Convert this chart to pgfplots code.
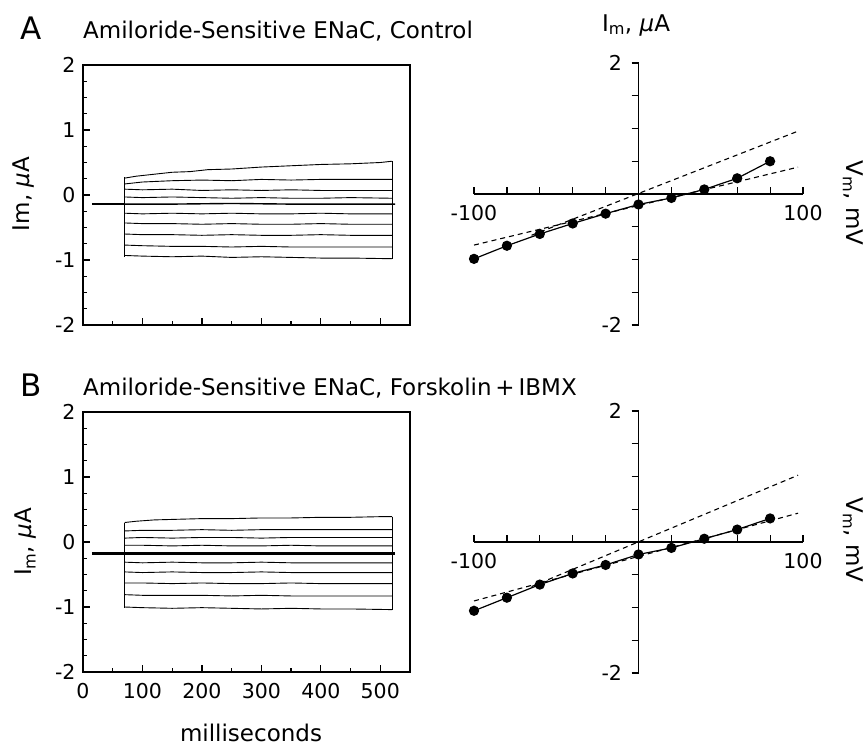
\documentclass[border=0pt]{standalone}
\usepackage{fontspec}
\setmainfont{DejaVu Sans}
\usepackage{pgfplots}
\pgfplotsset{compat=1.18}
\newcommand{\tfont}{\fontsize{20.5}{24}\selectfont}
\newcommand{\lfont}{\fontsize{23}{26}\selectfont}
\newcommand{\hfont}{\fontsize{23}{26}\selectfont}
\newcommand{\pfont}{\fontsize{31}{34}\selectfont}
\begin{document}
\begin{tikzpicture}[x=1pt,y=1pt]
\path[use as bounding box] (0pt,0pt) rectangle (865pt,-748pt);
\pgfplotsset{
 leftpanel/.style={scale only axis, width=327pt, height=260pt, xmin=0, xmax=550, ymin=-2, ymax=2,
   tick pos=left, tick align=inside, ytick={-2,-1,0,1,2}, yticklabels={-2,-1,0,1,2}, minor y tick num=3,
   xtick={0,100,...,500}, minor x tick num=1, major tick length=7pt, minor tick length=4pt,
   axis line style={line width=1.6pt}, every tick/.style={line width=1.2pt, black},
   tick label style={font=\tfont}, yticklabel style={xshift=-4pt}, xticklabel style={yshift=-8pt},
   clip=false, trace/.style={black, line width=0.9pt}},
 rightpanel/.style={scale only axis, width=329pt, height=262pt, xmin=-100, xmax=100, ymin=-2, ymax=2,
   axis lines=middle, axis line style={-, line width=1.6pt},
   xtick={-100,-80,...,100}, xticklabels={-100,{},{},{},{},{},{},{},{},{},100},
   ytick={-2,-1.5,...,2}, yticklabels={-2,{},{},{},{},{},{},{},2},
   xtick align=inside, ytick align=outside, major tick length=7pt,
   every tick/.style={line width=1.2pt, black},
   tick label style={font=\tfont}, xticklabel style={yshift=-8pt}, yticklabel style={xshift=-6pt},
   clip=false},
}
% ---------------- Panel A left
\begin{axis}[leftpanel, at={(83pt,-325pt)}, anchor=south west, xticklabels={}]
\addplot[black, line width=2.6pt] coordinates {(15,-0.14)(70,-0.14)};
\addplot[trace] coordinates {(70,-0.95)(70,0.27)};
\addplot[trace] coordinates {(520,-0.98)(520,0.52)};
\addplot[trace] coordinates {(70,0.26)(90,0.29)(120,0.32)(150,0.35)(180,0.36)(210,0.39)(250,0.40)(300,0.43)(350,0.45)(400,0.47)(450,0.48)(500,0.50)(520,0.52)};
\addplot[trace] coordinates {(70,0.17)(100,0.20)(150,0.22)(200,0.23)(250,0.22)(300,0.24)(350,0.23)(400,0.24)(450,0.24)(520,0.24)};
\addplot[trace] coordinates {(70,0.09)(100,0.08)(150,0.09)(200,0.07)(250,0.08)(300,0.07)(350,0.08)(400,0.07)(450,0.07)(520,0.07)};
\addplot[trace] coordinates {(70,-0.03)(100,-0.04)(150,-0.03)(200,-0.04)(250,-0.05)(300,-0.04)(350,-0.05)(400,-0.05)(450,-0.04)(520,-0.05)};
\addplot[trace, line width=1.4pt] coordinates {(70,-0.14)(150,-0.14)(250,-0.13)(350,-0.14)(450,-0.14)(525,-0.14)};
\addplot[trace] coordinates {(70,-0.28)(100,-0.29)(150,-0.28)(200,-0.29)(250,-0.28)(300,-0.29)(350,-0.29)(400,-0.28)(450,-0.29)(520,-0.29)};
\addplot[trace] coordinates {(70,-0.43)(100,-0.44)(150,-0.44)(200,-0.45)(250,-0.44)(300,-0.45)(350,-0.45)(400,-0.44)(450,-0.45)(520,-0.45)};
\addplot[trace] coordinates {(70,-0.60)(100,-0.61)(150,-0.61)(200,-0.62)(250,-0.61)(300,-0.62)(350,-0.62)(400,-0.61)(450,-0.62)(520,-0.62)};
\addplot[trace] coordinates {(70,-0.77)(100,-0.78)(150,-0.79)(200,-0.79)(250,-0.80)(300,-0.79)(350,-0.80)(400,-0.80)(450,-0.80)(520,-0.80)};
\addplot[trace] coordinates {(70,-0.93)(100,-0.94)(150,-0.95)(200,-0.94)(250,-0.96)(300,-0.95)(350,-0.96)(400,-0.97)(450,-0.97)(520,-0.98)};
\end{axis}
% ---------------- Panel B left
\begin{axis}[leftpanel, at={(83pt,-672pt)}, anchor=south west, xticklabels={0,100,200,300,400,500}]
\addplot[trace] coordinates {(70,-1.01)(70,0.30)};
\addplot[trace] coordinates {(520,-1.04)(520,0.39)};
\addplot[trace] coordinates {(70,0.30)(90,0.32)(120,0.34)(160,0.35)(200,0.36)(250,0.36)(300,0.37)(350,0.37)(400,0.38)(450,0.38)(500,0.39)(520,0.39)};
\addplot[trace] coordinates {(70,0.17)(100,0.18)(150,0.18)(200,0.19)(250,0.18)(300,0.19)(350,0.19)(400,0.19)(450,0.19)(520,0.19)};
\addplot[trace] coordinates {(70,0.06)(100,0.07)(150,0.06)(200,0.07)(250,0.07)(300,0.06)(350,0.07)(400,0.07)(450,0.07)(520,0.07)};
\addplot[trace] coordinates {(70,-0.05)(100,-0.05)(150,-0.06)(200,-0.05)(250,-0.06)(300,-0.06)(350,-0.05)(400,-0.06)(450,-0.06)(520,-0.06)};
\addplot[black, line width=2.6pt] coordinates {(15,-0.18)(525,-0.18)};
\addplot[trace] coordinates {(70,-0.31)(100,-0.32)(150,-0.31)(200,-0.32)(250,-0.32)(300,-0.31)(350,-0.32)(400,-0.32)(450,-0.32)(520,-0.32)};
\addplot[trace] coordinates {(70,-0.46)(100,-0.47)(150,-0.46)(200,-0.47)(250,-0.47)(300,-0.46)(350,-0.47)(400,-0.47)(450,-0.47)(520,-0.47)};
\addplot[trace] coordinates {(70,-0.63)(100,-0.63)(150,-0.64)(200,-0.63)(250,-0.64)(300,-0.64)(350,-0.63)(400,-0.64)(450,-0.64)(520,-0.64)};
\addplot[trace] coordinates {(70,-0.81)(100,-0.82)(150,-0.82)(200,-0.82)(250,-0.83)(300,-0.82)(350,-0.83)(400,-0.83)(450,-0.83)(520,-0.83)};
\addplot[trace] coordinates {(70,-1.00)(100,-1.01)(150,-1.02)(200,-1.01)(250,-1.02)(300,-1.03)(350,-1.02)(400,-1.03)(450,-1.03)(520,-1.04)};
\end{axis}
% ---------------- Panel A right
\begin{axis}[rightpanel, at={(474pt,-325pt)}, anchor=south west]
\addplot[black, line width=1.1pt, dash pattern=on 5pt off 4pt] coordinates {(-100,-0.78)(97,0.41)};
\addplot[black, line width=1.1pt, dash pattern=on 5pt off 4pt] coordinates {(-65,-0.63)(97,0.96)};
\addplot[black, line width=1.2pt, mark=*, mark size=4.5pt] coordinates {
 (-100,-0.99)(-80,-0.79)(-60,-0.61)(-40,-0.45)(-20,-0.30)(0,-0.16)(20,-0.06)(40,0.07)(60,0.24)(80,0.50)};
\end{axis}
% ---------------- Panel B right
\begin{axis}[rightpanel, at={(474pt,-673pt)}, anchor=south west]
\addplot[black, line width=1.1pt, dash pattern=on 5pt off 4pt] coordinates {(-100,-0.90)(97,0.44)};
\addplot[black, line width=1.1pt, dash pattern=on 5pt off 4pt] coordinates {(-65,-0.68)(97,1.02)};
\addplot[black, line width=1.2pt, mark=*, mark size=4.5pt] coordinates {
 (-100,-1.05)(-80,-0.85)(-60,-0.65)(-40,-0.48)(-20,-0.35)(0,-0.19)(20,-0.09)(40,0.05)(60,0.19)(80,0.36)};
\end{axis}
% ---------------- Texts
\node[anchor=base west, font=\pfont, inner sep=0] at (20pt,-39pt) {A};
\node[anchor=base west, font=\hfont, inner sep=0] at (83pt,-38pt) {Amiloride-Sensitive ENaC, Control};
\node[anchor=base west, font=\pfont, inner sep=0] at (20pt,-396pt) {B};
\node[anchor=base west, font=\hfont, inner sep=0] at (83pt,-395pt) {Amiloride-Sensitive ENaC, Forskolin\,+\,IBMX};
\node[rotate=90, font=\lfont] at (24pt,-194pt) {Im, \textit{μ}A};
\node[rotate=90, font=\lfont] at (26pt,-542pt) {I\textsubscript{m}, \textit{μ}A};
\node[font=\lfont] at (251pt,-733pt) {milliseconds};
\node[anchor=base, font=\lfont, inner sep=0] at (636pt,-31pt) {I\textsubscript{m}, \textit{μ}A};
\node[rotate=-90, font=\lfont, inner sep=1pt] at (853pt,-203pt) {V\textsubscript{m}, mV};
\node[rotate=-90, font=\lfont, inner sep=1pt] at (853pt,-540pt) {V\textsubscript{m}, mV};
\end{tikzpicture}
\end{document}
